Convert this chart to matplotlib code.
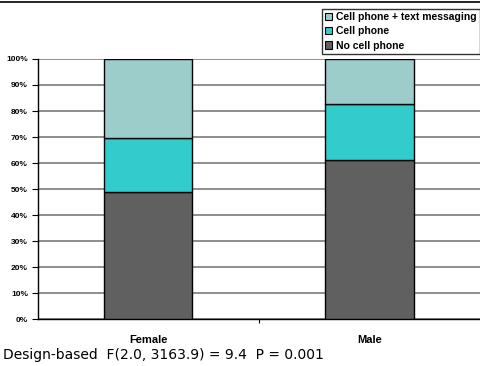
import matplotlib
matplotlib.use("Agg")
import matplotlib.pyplot as plt
from matplotlib.patches import Patch
from matplotlib.lines import Line2D
import numpy as np

categories = ["Female", "Male"]
no_cell = [48.7, 61.0]
cell = [20.8, 21.8]
cell_text = [30.5, 17.2]
series_names = ["No cell phone", "Cell phone", "Cell phone + text messaging"]
colors = ["#606060", "#33CCCC", "#9DCDCB"]
yticks = [0, 10, 20, 30, 40, 50, 60, 70, 80, 90, 100]
caption = "Design-based  F(2.0, 3163.9) = 9.4  P = 0.001"

fig = plt.figure(figsize=(4.8, 3.66), dpi=100)
ax = fig.add_axes([0.0785, 0.1284, 0.9215, 0.7104])

x = np.arange(len(categories))
w = 0.4
bottom = np.zeros(len(categories))
for vals, col in zip([no_cell, cell, cell_text], colors):
    ax.bar(x, vals, w, bottom=bottom, color=col, edgecolor="black", linewidth=1, zorder=3)
    bottom += np.array(vals)

ax.set_xlim(-0.5, 1.5)
ax.set_ylim(0, 100)
ax.set_yticks(yticks)
ax.set_yticklabels([f"{v}%" for v in yticks], fontsize=6, fontweight="bold", family="Liberation Sans")
ax.yaxis.grid(True, color="#7a7a7a", linewidth=1.2, zorder=0)
ax.set_xticks([0.5])
ax.set_xticklabels([""])
ax.tick_params(axis="x", length=3, width=0.8, direction="out")
ax.tick_params(axis="y", length=4, width=0.8, direction="out", pad=3)
for cat, xi in zip(categories, x):
    ax.text(xi, -6.2, cat, ha="center", va="top", fontsize=8, fontweight="bold",
            family="Liberation Sans", transform=ax.transData)
ax.spines["top"].set_visible(False)
ax.spines["right"].set_visible(False)
ax.spines["left"].set_linewidth(1)
ax.spines["bottom"].set_linewidth(1)

handles = [Patch(facecolor=c, edgecolor="black", linewidth=0.8) for c in colors[::-1]]
leg = fig.legend(handles, series_names[::-1], loc="upper right", bbox_to_anchor=(1.0, 0.975),
                 prop={"family": "Liberation Sans", "weight": "bold", "size": 7.5},
                 frameon=True, fancybox=False, edgecolor="black", handlelength=0.7,
                 handleheight=0.7, handletextpad=0.4, borderpad=0.3, labelspacing=0.4,
                 borderaxespad=0)
leg.get_frame().set_linewidth(1)

fig.add_artist(Line2D([0, 1], [0.994, 0.994], color="black", linewidth=1.2, transform=fig.transFigure))
fig.text(0.006, 0.019, caption, fontsize=10, family="DejaVu Sans", ha="left", va="baseline")

fig.savefig("out.png", dpi=100)
